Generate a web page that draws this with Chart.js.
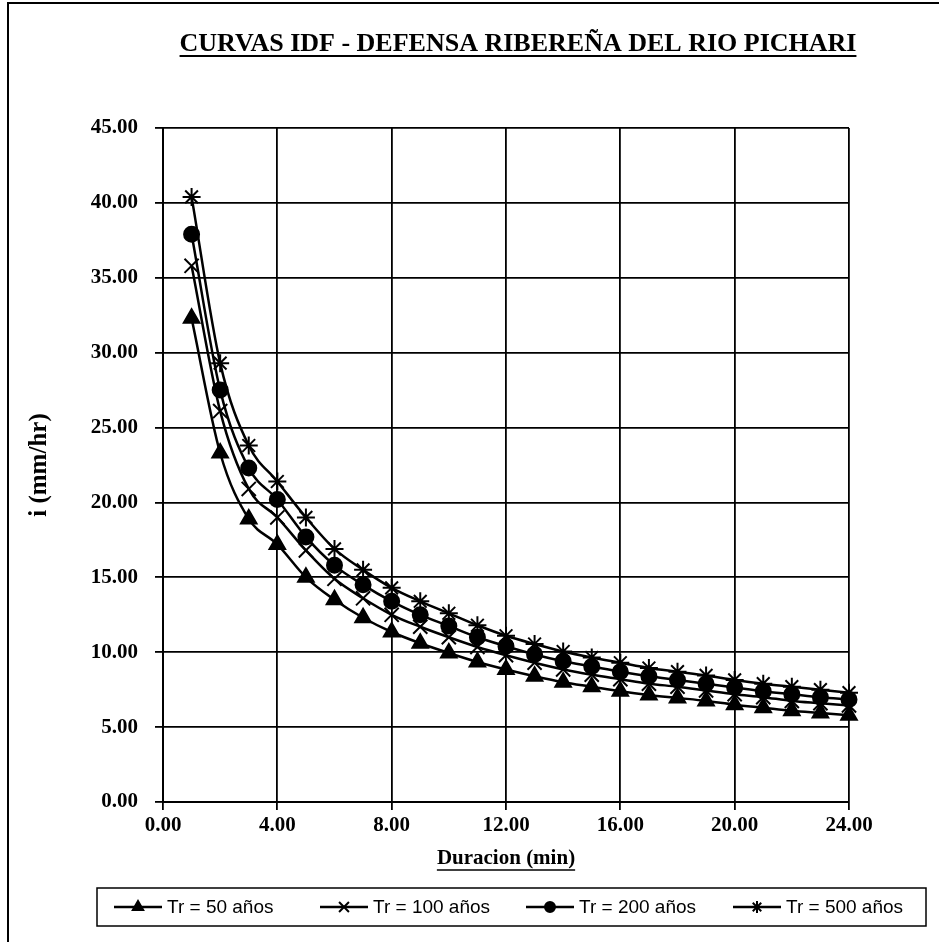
<!DOCTYPE html>
<html><head><meta charset="utf-8">
<script src="https://cdn.jsdelivr.net/npm/chart.js@4.4.0/dist/chart.umd.min.js"></script>
<style>html,body{margin:0;padding:0;background:#fff;}#wrap{position:relative;width:939px;height:942px;}</style>
</head><body><div id="wrap"><canvas id="c" width="939" height="942"></canvas></div>
<script>
const titleText = 'CURVAS IDF - DEFENSA RIBEREÑA DEL RIO PICHARI';
const xTitle = 'Duracion (min)';
const yTitle = 'i (mm/hr)';
const durations = [1,2,3,4,5,6,7,8,9,10,11,12,13,14,15,16,17,18,19,20,21,22,23,24];
const tr50  = [32.3,23.3,18.9,17.2,15.0,13.5,12.3,11.35,10.6,9.95,9.35,8.85,8.4,8.0,7.7,7.4,7.15,6.95,6.75,6.5,6.3,6.1,5.95,5.8];
const tr100 = [35.8,26.1,20.9,19.0,16.8,14.9,13.6,12.5,11.7,11.0,10.35,9.8,9.3,8.85,8.5,8.2,7.9,7.7,7.45,7.2,7.0,6.75,6.6,6.45];
const tr200 = [37.9,27.5,22.3,20.2,17.7,15.8,14.5,13.4,12.5,11.75,11.0,10.4,9.85,9.4,9.05,8.7,8.4,8.15,7.9,7.65,7.4,7.2,7.0,6.85];
const tr500 = [40.4,29.3,23.8,21.4,19.0,16.9,15.5,14.3,13.4,12.6,11.8,11.1,10.55,10.05,9.65,9.3,8.95,8.7,8.45,8.15,7.9,7.7,7.5,7.3];
const seriesNames = ['Tr = 50 años','Tr = 100 años','Tr = 200 años','Tr = 500 años'];
const seriesValues = [tr50, tr100, tr200, tr500];
const xTickValues = [0,4,8,12,16,20,24];
const yTickValues = [0,5,10,15,20,25,30,35,40,45];

const styles = [
  {pointStyle:'triangle', radius:9},
  {pointStyle:'crossRot', radius:10},
  {pointStyle:'circle', radius:7.5},
  {pointStyle:'star', radius:9}
];
const serif = "'Liberation Serif','Times New Roman',serif";
const sans = "'Liberation Sans',Arial,sans-serif";

const datasets = seriesValues.map((vals, k) => ({
  label: seriesNames[k],
  data: durations.map((d, i) => ({x: d, y: vals[i]})),
  borderColor: '#000',
  backgroundColor: '#000',
  borderWidth: 2.5,
  pointStyle: styles[k].pointStyle,
  pointRadius: styles[k].radius,
  pointHoverRadius: styles[k].radius,
  pointBackgroundColor: '#000',
  pointBorderColor: '#000',
  pointBorderWidth: 2,
  cubicInterpolationMode: 'monotone',
  fill: false,
  clip: false
}));

const decor = {
  id: 'decor',
  beforeDraw(chart) {
    const ctx = chart.ctx;
    ctx.save();
    ctx.fillStyle = '#fff';
    ctx.fillRect(0, 0, chart.width, chart.height);
    ctx.restore();
  },
  afterDraw(chart) {
    const ctx = chart.ctx;
    ctx.save();
    ctx.strokeStyle = '#000';
    ctx.fillStyle = '#000';
    // page frame
    ctx.lineWidth = 2;
    ctx.beginPath();
    ctx.moveTo(8, 942); ctx.lineTo(8, 3); ctx.lineTo(939, 3);
    ctx.stroke();
    // title + underline
    ctx.font = 'bold 26px ' + serif;
    ctx.textAlign = 'center';
    ctx.textBaseline = 'alphabetic';
    const tcx = 518;
    ctx.fillText(titleText, tcx, 51);
    const tw = ctx.measureText(titleText).width;
    ctx.lineWidth = 2;
    ctx.beginPath();
    ctx.moveTo(tcx - tw / 2, 56); ctx.lineTo(tcx + tw / 2, 56);
    ctx.stroke();
    // x title underline
    ctx.font = 'bold 21px ' + serif;
    const xw = ctx.measureText(xTitle).width;
    const xc = (chart.chartArea.left + chart.chartArea.right) / 2;
    ctx.lineWidth = 1.5;
    ctx.beginPath();
    ctx.moveTo(xc - xw / 2, 870); ctx.lineTo(xc + xw / 2, 870);
    ctx.stroke();
    // legend
    ctx.lineWidth = 1.5;
    ctx.strokeRect(97, 888, 829, 38);
    const starts = [114, 320, 526, 733];
    const ly = 907;
    ctx.font = '19px ' + sans;
    ctx.textBaseline = 'middle';
    ctx.textAlign = 'left';
    seriesNames.forEach((name, k) => {
      const s = starts[k];
      ctx.lineWidth = 2.5;
      ctx.beginPath();
      ctx.moveTo(s, ly); ctx.lineTo(s + 48, ly);
      ctx.stroke();
      ctx.lineWidth = 2;
      Chart.helpers.drawPoint(ctx, {pointStyle: styles[k].pointStyle, radius: Math.round(styles[k].radius * 0.7), rotation: 0, borderWidth: 2}, s + 24, ly);
      ctx.fillStyle = '#000';
      ctx.fillText(name, s + 53, ly + 1);
    });
    ctx.restore();
  }
};

new Chart(document.getElementById('c'), {
  type: 'line',
  data: {datasets},
  plugins: [decor],
  options: {
    responsive: false,
    animation: false,
    devicePixelRatio: 1,
    layout: {padding: {left: 0, right: 90, top: 128, bottom: 0}},
    plugins: {
      legend: {display: false},
      tooltip: {enabled: false},
      title: {display: false}
    },
    scales: {
      x: {
        type: 'linear',
        min: 0, max: 24,
        afterBuildTicks: s => { s.ticks = xTickValues.map(v => ({value: v})); },
        afterFit: s => { s.height = 140; },
        ticks: {
          callback: v => Number(v).toFixed(2),
          color: '#000',
          font: {family: serif, size: 21, weight: 'bold'},
          padding: 3,
          maxRotation: 0
        },
        grid: {color: '#000', lineWidth: 1.8, tickLength: 8, drawTicks: true},
        border: {display: true, color: '#000', width: 2},
        title: {
          display: true, text: xTitle, color: '#000',
          font: {family: serif, size: 21, weight: 'bold'},
          padding: {top: 0, bottom: 71}
        }
      },
      y: {
        type: 'linear',
        min: 0, max: 45,
        afterBuildTicks: s => { s.ticks = yTickValues.map(v => ({value: v})); },
        afterFit: s => { s.width = 163; },
        ticks: {
          callback: v => Number(v).toFixed(2),
          color: '#000',
          font: {family: serif, size: 21, weight: 'bold'},
          padding: 17
        },
        grid: {color: '#000', lineWidth: 1.8, tickLength: 8, drawTicks: true},
        border: {display: true, color: '#000', width: 2},
        title: {
          display: true, text: yTitle, color: '#000',
          font: {family: serif, size: 25, weight: 'bold'},
          padding: {top: 25, bottom: 0}
        }
      }
    }
  }
});
</script></body></html>
